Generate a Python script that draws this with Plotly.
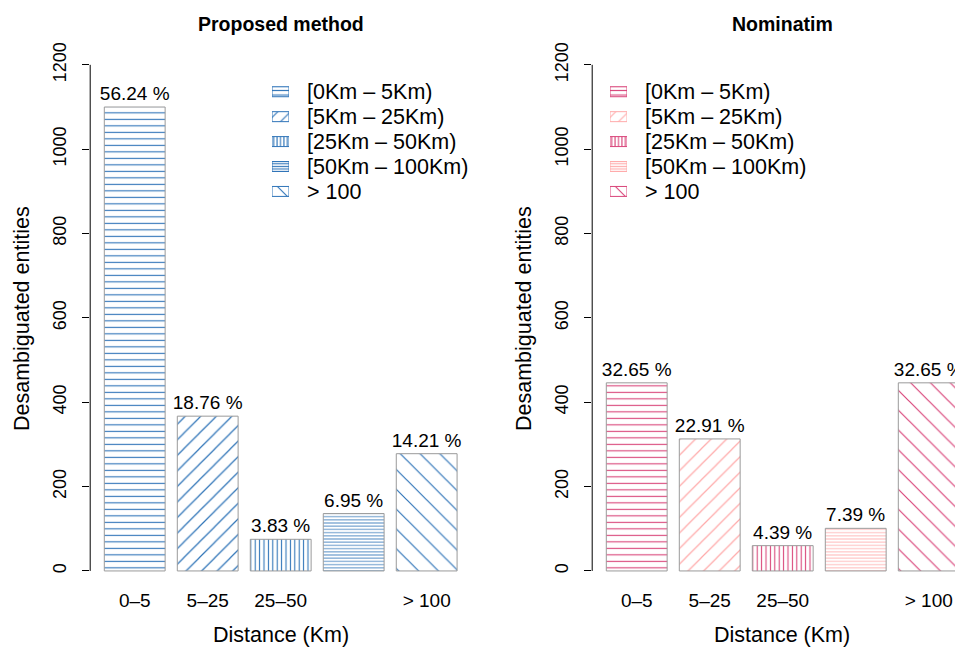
import plotly.graph_objects as go

categories = ["0–5", "5–25", "25–50", "50–100", "> 100"]
tick_labels = ["0–5", "5–25", "25–50", "", "> 100"]
legend_labels = ["[0Km – 5Km)", "[5Km – 25Km)", "[25Km – 50Km)", "[50Km – 100Km)", "> 100"]
proposed_values = [1100, 367, 75, 136, 278]
proposed_pct = ["56.24 %", "18.76 %", "3.83 %", "6.95 %", "14.21 %"]
nominatim_values = [446, 313, 60, 101, 446]
nominatim_pct = ["32.65 %", "22.91 %", "4.39 %", "7.39 %", "32.65 %"]

FONT = "Liberation Sans, Arial, Helvetica, sans-serif"
shapes_pat = ["-", "/", "|", "-", "\\"]
sizes_pat = [6.5, 11, 4.4, 3.2, 14]
solid_pat = [0.17, 0.11, 0.25, 0.25, 0.085]
sizes_leg = [4.5, 9, 3.4, 2.6, 12]
blue = ["#2f74b8"] * 5
pink = ["#d9457a", "#ffaaaa", "#d9457a", "#ffaaaa", "#d9457a"]

# page body has an 8px margin: convert reference pixels to paper coords
W, H, OFF = 955, 643, 8
def PX(px):
    return (px - OFF) / W
def PY(py):
    return 1 - (py - OFF) / H

fig = go.Figure()

def add_panel(values, pcts, colors, xa, ya, xl, yl):
    fig.add_trace(go.Bar(
        x=categories, y=values, text=pcts, textposition="outside", constraintext="none",
        textfont=dict(size=19, color="black", family=FONT),
        width=0.8333, xaxis=xa, yaxis=ya, cliponaxis=False, showlegend=False,
        marker=dict(color="white", line=dict(color="#9a9a9a", width=1),
                    pattern=dict(shape=shapes_pat, fgcolor=colors, bgcolor="white",
                                 size=sizes_pat, solidity=solid_pat,
                                 fillmode="replace")),
    ))
    # legend swatches on their own small axes, labels as axis tick labels
    fig.add_trace(go.Bar(
        y=legend_labels, x=[1] * len(legend_labels), orientation="h", width=0.4,
        xaxis=xl, yaxis=yl, showlegend=False, hoverinfo="skip",
        marker=dict(color="white", line=dict(color=colors, width=1),
                    pattern=dict(shape=shapes_pat, fgcolor=colors, bgcolor="white",
                                 size=sizes_leg, solidity=[min(0.9, 1.1 / s) for s in sizes_leg],
                                 fillmode="replace")),
    ))

add_panel(proposed_values, proposed_pct, blue, "x", "y", "x3", "y3")
add_panel(nominatim_values, nominatim_pct, pink, "x2", "y2", "x4", "y4")

ydom = [PY(591), PY(42.7)]
xaxis_common = dict(type="category", categoryorder="array", categoryarray=categories,
                    tickmode="array", tickvals=categories, ticktext=tick_labels,
                    showline=False, showgrid=False,
                    zeroline=False, ticks="", ticklabelstandoff=-4,
                    tickfont=dict(size=19, family=FONT, color="black"))
yaxis_common = dict(range=[-48, 1248], tickvals=[0, 200, 400, 600, 800, 1000, 1200],
                    showline=False, showgrid=False, zeroline=False, ticks="outside", ticklen=7,
                    tickcolor="black", tickwidth=1, tickangle=-90, ticklabelstandoff=9,
                    tickfont=dict(size=18, family=FONT, color="black"), domain=ydom)
leg_x_common = dict(range=[0, 1], showgrid=False, zeroline=False, showline=False,
                    showticklabels=False, ticks="", fixedrange=True)
leg_y_common = dict(type="category", categoryorder="array", categoryarray=legend_labels[::-1],
                    tickmode="array", tickvals=legend_labels, ticktext=legend_labels,
                    showgrid=False, zeroline=False, showline=False, ticks="", side="right",
                    ticklabelstandoff=17, domain=[PY(202.5), PY(77.5)], fixedrange=True,
                    tickfont=dict(size=21.5, family=FONT, color="black"))

fig.update_layout(
    width=W, height=H, margin=dict(l=0, r=0, t=0, b=0),
    paper_bgcolor="white", plot_bgcolor="rgba(0,0,0,0)", barmode="overlay",
    font=dict(family=FONT, color="black"), showlegend=False,
    xaxis=dict(domain=[PX(90.2), PX(471.2)], range=[-0.61, 4.61], anchor="y", **xaxis_common),
    yaxis=dict(anchor="x", **yaxis_common),
    xaxis2=dict(domain=[PX(592.2), 1.0], range=[-0.61, -0.61 + 370.8 / 73], anchor="y2", **xaxis_common),
    yaxis2=dict(anchor="x2", **yaxis_common),
    xaxis3=dict(domain=[PX(272), PX(289)], anchor="y3", **leg_x_common),
    yaxis3=dict(anchor="x3", **leg_y_common),
    xaxis4=dict(domain=[PX(610), PX(627)], anchor="y4", **leg_x_common),
    yaxis4=dict(anchor="x4", **leg_y_common),
)

# y axis lines spanning 0..1200 only (R style)
for xr, yr in [("x domain", "y"), ("x2 domain", "y2")]:
    fig.add_shape(type="line", xref=xr, yref=yr, x0=0, x1=0, y0=0, y1=1200,
                  line=dict(color="black", width=1))

annos = [
    dict(text="<b>Proposed method</b>", x=PX(280.7), y=PY(22), size=19.5),
    dict(text="<b>Nominatim</b>", x=PX(782), y=PY(22), size=19.5),
    dict(text="Distance (Km)", x=PX(280.7), y=PY(635), size=21.5),
    dict(text="Distance (Km)", x=PX(782), y=PY(635), size=21.5),
]
for a in annos:
    fig.add_annotation(text=a["text"], x=a["x"], y=a["y"], xref="paper", yref="paper",
                       showarrow=False, xanchor="center", yanchor="middle",
                       font=dict(size=a["size"], family=FONT, color="black"))
for xp in [22, 524]:
    fig.add_annotation(text="Desambiguated entities", x=PX(xp), y=PY(318),
                       xref="paper", yref="paper", showarrow=False, textangle=-90,
                       xanchor="center", yanchor="middle",
                       font=dict(size=21.5, family=FONT, color="black"))

fig.write_html("out.html")
